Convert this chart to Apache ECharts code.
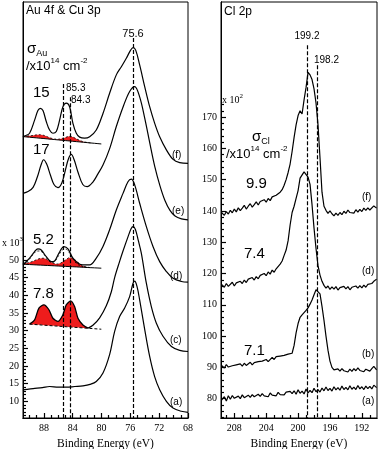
<!DOCTYPE html>
<html>
<head>
<meta charset="utf-8">
<title>Au 4f &amp; Cu 3p / Cl 2p</title>
<script src="https://cdn.jsdelivr.net/npm/echarts/dist/echarts.min.js"></script>
<style>
  html, body { margin: 0; padding: 0; background: #fff; }
  #chart { width: 380px; height: 449px; }
</style>
</head>
<body>
<div id="chart"></div>
<script>
const SERIF = '"Liberation Serif", "DejaVu Serif", serif'
const SANS = '"Liberation Sans", Arial, sans-serif'
const RED = '#ee1c1c'

// ---- Au 4f & Cu 3p panel: binding energy (eV) / counts (x10^3) ----
const auFEnergy = [90.9, 90.68, 89.99, 89.29, 88.83, 88.5, 88.13, 87.67, 87.21, 86.75, 86.28, 85.82, 85.36, 84.89, 84.43, 83.97, 83.5, 83.04, 82.35, 81.65, 80.73, 79.8, 78.88, 77.95, 77.25, 76.56, 75.96, 75.63, 75.26, 74.71, 74.01, 73.32, 72.62, 71.93, 71.0, 70.07, 69.15, 68.0]
const auFCounts = [84.8, 85.0, 85.8, 89.5, 92.2, 92.85, 92.2, 89.1, 86.7, 85.8, 86.3, 89.5, 93.3, 94.3, 93.3, 88.6, 85.8, 84.7, 84.4, 84.8, 86.7, 91.4, 97.1, 102.3, 104.6, 107.0, 109.3, 110.0, 109.3, 105.1, 99.0, 93.3, 88.6, 84.8, 81.1, 78.4, 77.5, 77.3]

const auEEnergy = [90.9, 90.2, 89.5, 88.9, 88.4, 88.04, 87.6, 87.1, 86.6, 86.05, 85.5, 85.0, 84.6, 84.2, 83.8, 83.3, 82.6, 82.0, 81.2, 80.5, 79.8, 78.9, 77.95, 77.0, 76.1, 75.4, 74.7, 74.0, 73.3, 72.6, 71.9, 71.2, 70.5, 69.8, 68.9, 68.0]
const auECounts = [68.8, 69.3, 70.5, 73.5, 76.8, 78.3, 77.0, 74.0, 71.3, 70.4, 71.8, 75.5, 78.5, 79.8, 78.3, 75.0, 71.3, 70.7, 72.0, 74.3, 76.8, 81.3, 87.7, 93.3, 97.6, 99.0, 96.0, 90.0, 83.0, 76.3, 71.0, 66.8, 64.0, 62.4, 61.6, 61.3]

const auDEnergy = [90.91, 90.68, 89.99, 89.29, 88.83, 88.37, 87.67, 86.98, 86.51, 85.91, 85.22, 84.66, 83.97, 83.27, 82.58, 81.65, 80.73, 79.8, 78.88, 77.95, 77.02, 76.33, 75.87, 75.4, 74.71, 73.78, 72.86, 71.93, 71.0, 70.08, 68.92, 68.0]
const auDCounts = [48.8, 49.06, 50.47, 52.35, 53.1, 52.8, 50.9, 49.5, 49.7, 51.9, 53.77, 53.1, 50.47, 49.06, 48.6, 48.6, 50.5, 53.8, 58.5, 64.1, 68.8, 72.1, 72.8, 71.2, 66.0, 59.4, 53.8, 49.5, 46.7, 44.8, 43.9, 43.7]

const auCEnergy = [81.88, 81.2, 80.26, 79.34, 78.64, 78.18, 77.5, 77.02, 76.33, 75.9, 75.63, 75.3, 74.9, 74.48, 73.78, 73.09, 72.39, 71.47, 70.3, 69.15, 68.0]
const auCCounts = [30.7, 31.5, 33.6, 37.0, 41.0, 45.0, 49.5, 52.5, 56.5, 58.8, 59.4, 58.6, 55.5, 51.9, 43.4, 36.8, 32.1, 28.4, 25.5, 24.4, 24.1]

const auAEnergy = [90.9, 90.68, 89.5, 88.2, 87.21, 86.0, 84.9, 83.7, 82.58, 81.6, 80.73, 79.8, 78.88, 78.18, 77.49, 76.79, 76.1, 75.63, 75.4, 75.08, 74.71, 74.0, 73.32, 72.63, 71.93, 71.0, 70.08, 68.92, 68.0]
const auACounts = [13.1, 13.3, 13.6, 13.9, 14.2, 14.0, 14.0, 14.2, 14.4, 14.8, 15.6, 18.0, 23.2, 29.8, 34.0, 36.4, 39.6, 43.4, 44.0, 42.5, 38.7, 30.2, 22.7, 17.0, 13.3, 10.0, 8.1, 7.2, 6.9]

// fit regions: common energy grid, background line and component heights
const fitEnergy = [90.91, 90.5, 90.0, 89.5, 89.0, 88.5, 88.0, 87.5, 87.0, 86.5, 86.0, 85.5, 85.0, 84.5, 84.0, 83.5, 83.0, 82.5, 82.0, 81.5, 81.0, 80.5, 80.03]
const fitFBackground = [84.85, 84.77, 84.68, 84.58, 84.49, 84.39, 84.30, 84.20, 84.10, 84.01, 83.91, 83.82, 83.72, 83.63, 83.53, 83.43, 83.34, 83.24, 83.15, 83.05, 82.96, 82.86, 82.77]
const fitFPeaks = [0, 0.2, 0.4, 0.6, 0.85, 1.0, 0.9, 0.6, 0.3, 0.15, 0.2, 0.5, 0.9, 1.3, 1.2, 0.8, 0.4, 0.15, 0.05, 0]
const fitDBackground = [48.77, 48.73, 48.68, 48.63, 48.57, 48.52, 48.47, 48.42, 48.37, 48.32, 48.26, 48.21, 48.16, 48.11, 48.06, 48.01, 47.96, 47.90, 47.85, 47.80, 47.75, 47.70, 47.65]
const fitDPeaks = [0, 0.3, 0.6, 1.0, 1.5, 1.9, 2.0, 1.6, 1.0, 0.6, 0.6, 1.1, 1.8, 2.5, 2.4, 1.7, 0.9, 0.3, 0.1, 0]
const fitDEnvelope = [0, 0.4, 1.5, 2.9, 3.9, 4.0, 3.1, 1.8, 0.9, 1.2, 2.8, 4.5, 4.9, 4.0, 2.3, 1.0, 0.4, 0.1, 0]

const fitCEnergy = [89.99, 89.29, 88.69, 88.0, 87.3, 86.75, 86.05, 85.36, 84.9, 84.29, 83.74, 83.27, 82.58, 81.88, 81.2, 80.03]
const fitCBackground = [31.83, 31.73, 31.64, 31.54, 31.44, 31.36, 31.26, 31.17, 31.10, 31.01, 30.93, 30.87, 30.77, 30.67, 30.57, 30.40]
const fitCPeaks = [0, 1.32, 4.71, 5.75, 4.46, 2.14, 1.34, 3.33, 6.19, 7.39, 5.87, 2.63, 0.83, 0.03]

const auRefLines = [85.3, 84.3, 75.6]
const auRefTops = [99.7, 96.0, 112.7]

const auEnergyLabels = [68, 72, 76, 80, 84, 88]
const auEnergyMinor = [69, 70, 71, 73, 74, 75, 77, 78, 79, 81, 82, 83, 85, 86, 87, 89, 90]
const auCountLabels = [10, 15, 20, 25, 30, 35, 40, 45, 50]
const auCountMinor = [6, 7, 8, 9, 11, 12, 13, 14, 16, 17, 18, 19, 21, 22, 23, 24, 26, 27, 28, 29, 31, 32, 33, 34, 36, 37, 38, 39, 41, 42, 43, 44, 46, 47, 48, 49, 51]

// ---- Cl 2p panel: binding energy (eV) / counts (x10^2) ----
const clEnergy = [209.6, 209.25, 209, 208.75, 208.5, 208.25, 208, 207.75, 207.5, 207.25, 207, 206.75, 206.5, 206.25, 206, 205.75, 205.5, 205.25, 205, 204.75, 204.5, 204.25, 204, 203.75, 203.5, 203.25, 203, 202.75, 202.5, 202.25, 202, 201.75, 201.5, 201.25, 201, 200.75, 200.5, 200.25, 200, 199.75, 199.5, 199.25, 199, 198.75, 198.5, 198.25, 198, 197.75, 197.5, 197.25, 197, 196.75, 196.5, 196.25, 196, 195.75, 195.5, 195.25, 195, 194.75, 194.5, 194.25, 194, 193.75, 193.5, 193.25, 193, 192.75, 192.5, 192.25, 192, 191.75, 191.5, 191.25, 191, 190.75, 190.5, 190.15]
const clF = [139.5, 138.6, 139.8, 139.0, 140.2, 139.4, 140.6, 139.7, 141.0, 140.1, 140.9, 141.8, 140.6, 141.5, 142.3, 141.2, 142.0, 142.9, 141.9, 143.0, 142.4, 143.6, 142.8, 144.0, 143.3, 144.5, 143.9, 145.0, 144.6, 146.0, 146.8, 148.2, 150.0, 152.3, 155.0, 159.0, 163.5, 167.5, 170.5, 172.0, 171.0, 175.5, 179.5, 184.3, 183.5, 182.0, 179.0, 174.5, 167.5, 157.0, 146.0, 141.5, 140.2, 139.2, 140.0, 139.1, 138.4, 139.3, 138.6, 139.5, 138.8, 139.9, 139.2, 140.3, 139.5, 140.1, 139.3, 140.4, 139.6, 140.5, 139.8, 140.9, 140.2, 141.0, 140.3, 140.8, 141.6, 140.9]
const clD = [116.5, 115.6, 116.8, 115.9, 116.3, 117.2, 116.0, 117.0, 116.4, 117.5, 116.8, 117.9, 117.1, 118.2, 117.6, 118.7, 117.9, 119.0, 118.3, 119.4, 118.8, 120.0, 119.3, 120.5, 119.8, 121.1, 120.4, 121.5, 122.0, 123.0, 124.0, 125.8, 127.5, 130.5, 135.5, 139.5, 141.5, 144.0, 146.5, 150.5, 151.0, 152.5, 152.0, 150.8, 148.5, 142.0, 134.5, 128.0, 122.5, 119.5, 117.5, 116.2, 115.3, 116.0, 114.9, 115.7, 115.0, 115.8, 114.7, 115.5, 114.9, 115.9, 115.1, 115.8, 114.8, 115.6, 115.0, 116.0, 115.3, 116.1, 115.4, 116.3, 115.6, 116.5, 115.9, 116.8, 117.5, 118.2]
const clB = [90.6, 89.8, 90.9, 90.1, 89.6, 90.5, 89.9, 90.8, 90.2, 91.1, 90.4, 91.3, 90.6, 91.0, 91.6, 90.8, 91.5, 90.9, 91.8, 91.2, 92.0, 91.4, 92.5, 91.8, 92.3, 93.2, 92.5, 93.4, 92.8, 93.6, 93.0, 93.8, 93.3, 94.2, 93.6, 94.5, 97.0, 101.0, 104.0, 106.0, 106.8, 107.5, 108.2, 109.0, 110.2, 111.5, 113.2, 114.8, 115.4, 113.5, 109.5, 105.0, 100.0, 95.5, 92.0, 90.0, 89.2, 88.6, 89.5, 88.8, 89.6, 88.9, 89.3, 88.5, 89.4, 88.7, 89.6, 88.9, 89.8, 89.0, 89.5, 88.6, 89.4, 89.9, 88.8, 89.6, 90.3, 89.2]
const clA = [79.5, 80.6, 79.2, 80.9, 79.8, 81.0, 80.1, 79.6, 80.8, 80.0, 81.2, 80.3, 79.9, 81.1, 80.4, 81.3, 80.6, 80.1, 81.4, 80.7, 81.6, 80.9, 81.5, 80.6, 81.8, 81.1, 81.7, 80.9, 82.0, 81.3, 81.9, 81.2, 82.1, 81.5, 82.3, 81.6, 82.5, 81.4, 82.8, 81.7, 82.4, 81.5, 83.1, 81.8, 82.6, 81.9, 83.3, 82.2, 82.9, 82.1, 83.4, 82.5, 83.7, 82.6, 83.3, 82.4, 83.8, 82.8, 83.5, 82.7, 84.0, 82.9, 83.6, 82.8, 84.1, 83.0, 83.7, 82.9, 84.2, 83.1, 83.8, 82.9, 84.0, 83.2, 83.9, 83.1, 84.3, 83.5]

const clRefLines = [198.8, 197.6]
const clRefTops = [193.0, 186.6]

const clEnergyLabels = [192, 196, 200, 204, 208]
const clEnergyMinor = [191, 193, 194, 195, 197, 198, 199, 201, 202, 203, 205, 206, 207, 209]
const clCountLabels = [80, 90, 100, 110, 120, 130, 140, 150, 160, 170]
const clCountMinor = [74, 76, 78, 82, 84, 86, 88, 92, 94, 96, 98, 102, 104, 106, 108, 112, 114, 116, 118, 122, 124, 126, 128, 132, 134, 136, 138, 142, 144, 146, 148, 152, 154, 156, 158, 162, 164, 166, 168, 172, 174]

// axis ranges of the two frames
const AU_X = [68, 90.9]
const AU_Y = [5.3, 122.9]
const CL_X = [190.1, 209.67]
const CL_Y = [73.8, 206.8]

function pairs (xs, ys) {
  return ys.map((y, i) => [xs[i], y])
}

// background + component height
function stackUp (base, peaks) {
  return peaks.map((h, i) => base[i] + h)
}

function energyAxis (grid, range, ticks, labelled) {
  return {
    type: 'value',
    gridIndex: grid,
    position: 'bottom',
    inverse: true,
    min: range[0],
    max: range[1],
    name: labelled ? 'Binding Energy (eV)' : '',
    nameLocation: 'middle',
    nameGap: 17,
    nameTextStyle: { fontFamily: SERIF, fontSize: 11.5, color: '#000' },
    axisLine: { show: true, lineStyle: { color: '#000', width: 1 } },
    axisTick: { show: true, inside: true, length: labelled ? 5 : 3, customValues: ticks, lineStyle: { color: '#000', width: 1.2 } },
    axisLabel: labelled
      ? { show: true, customValues: ticks, margin: 5, fontFamily: SERIF, fontSize: 10, color: '#000' }
      : { show: false },
    splitLine: { show: false }
  }
}

function countAxis (grid, range, ticks, labelled) {
  return {
    type: 'value',
    gridIndex: grid,
    position: 'left',
    min: range[0],
    max: range[1],
    axisLine: { show: true, lineStyle: { color: '#000', width: 1 } },
    axisTick: { show: true, inside: true, length: labelled ? 5 : 3, customValues: ticks, lineStyle: { color: '#000', width: 1.2 } },
    axisLabel: labelled
      ? { show: true, customValues: ticks, margin: 4, fontFamily: SERIF, fontSize: 10, color: '#000' }
      : { show: false },
    splitLine: { show: false }
  }
}

// panel 0 -> axes 0, panel 1 -> axes 2
function curve (panel, xs, ys, smooth, extra) {
  return Object.assign({
    type: 'line',
    xAxisIndex: panel * 2,
    yAxisIndex: panel * 2,
    data: pairs(xs, ys),
    symbol: 'none',
    smooth: smooth,
    silent: true,
    lineStyle: { color: '#000', width: 1.2 },
    z: 4
  }, extra || {})
}

// red area between a background line and background + component
function redFill (xs, base, peaks) {
  return {
    type: 'custom',
    xAxisIndex: 0,
    yAxisIndex: 0,
    silent: true,
    z: 2,
    data: [[xs[0], base[0]]],
    renderItem: function (params, api) {
      const top = peaks.map((h, i) => api.coord([xs[i], base[i] + h]))
      const bottom = peaks.map((h, i) => api.coord([xs[i], base[i]])).reverse()
      return {
        type: 'polygon',
        shape: { points: top.concat(bottom), smooth: 0.25 },
        style: { fill: RED, stroke: null }
      }
    }
  }
}

function refLines (xs, tops, bottom) {
  return {
    silent: true,
    symbol: ['none', 'none'],
    label: { show: false },
    lineStyle: { color: '#000', width: 1.2, type: [4, 2] },
    data: xs.map((x, i) => [{ coord: [x, tops[i]] }, { coord: [x, bottom] }])
  }
}

function text (x, y, str, size, extra) {
  return {
    type: 'text',
    x,
    y,
    silent: true,
    style: Object.assign({
      text: str,
      fontSize: size,
      fontFamily: SANS,
      fill: '#000',
      align: 'left',
      verticalAlign: 'top'
    }, extra || {})
  }
}

const richSigma = {
  b: { fontSize: 15, lineHeight: 18, fontFamily: SANS },
  sub: { fontSize: 9, verticalAlign: 'bottom', fontFamily: SANS }
}
const richUnit = {
  b: { fontSize: 13, lineHeight: 18, fontFamily: SANS },
  sup: { fontSize: 8, verticalAlign: 'top', fontFamily: SANS }
}
const richScale = {
  b: { fontSize: 10, lineHeight: 14, fontFamily: SERIF },
  sup: { fontSize: 7, verticalAlign: 'top', fontFamily: SERIF }
}

const chart = echarts.init(document.getElementById('chart'))

const option = {
  animation: false,
  backgroundColor: '#fff',
  grid: [
    { left: 23, top: 2, width: 165, height: 416, show: true, borderColor: '#000', borderWidth: 1, outerBoundsMode: 'none', containLabel: false },
    { left: 221, top: 2, width: 156, height: 416, show: true, borderColor: '#000', borderWidth: 1, outerBoundsMode: 'none', containLabel: false }
  ],
  xAxis: [
    energyAxis(0, AU_X, auEnergyLabels, true),
    energyAxis(0, AU_X, auEnergyMinor, false),
    energyAxis(1, CL_X, clEnergyLabels, true),
    energyAxis(1, CL_X, clEnergyMinor, false)
  ],
  yAxis: [
    countAxis(0, AU_Y, auCountLabels, true),
    countAxis(0, AU_Y, auCountMinor, false),
    countAxis(1, CL_Y, clCountLabels, true),
    countAxis(1, CL_Y, clCountMinor, false)
  ],
  series: [
    // 7.8 group: red filled peaks over a dashed background
    redFill(fitCEnergy, fitCBackground, fitCPeaks),
    curve(0, fitCEnergy, fitCBackground, false, { lineStyle: { color: '#000', width: 1, type: [3, 2] }, z: 3 }),
    curve(0, fitCEnergy, stackUp(fitCBackground, fitCPeaks), 0.25, { lineStyle: { color: '#000', width: 1.3 } }),
    // 5.2 group components and fit envelope
    redFill(fitEnergy, fitDBackground, fitDPeaks),
    curve(0, fitEnergy, fitDBackground, false, { lineStyle: { color: '#000', width: 1 }, z: 3 }),
    curve(0, fitEnergy, stackUp(fitDBackground, fitDPeaks), 0.25, { lineStyle: { color: '#000', width: 0.8, type: [2, 2] }, z: 3 }),
    curve(0, fitEnergy, stackUp(fitDBackground, fitDEnvelope), 0.3, { lineStyle: { color: '#000', width: 0.8, type: [2, 2] }, z: 3 }),
    // 15 group components
    redFill(fitEnergy, fitFBackground, fitFPeaks),
    curve(0, fitEnergy, fitFBackground, false, { lineStyle: { color: '#000', width: 1 }, z: 3 }),
    curve(0, fitEnergy, stackUp(fitFBackground, fitFPeaks), 0.25, { lineStyle: { color: '#000', width: 0.8, type: [2, 2] }, z: 3 }),
    // raw Au 4f / Cu 3p spectra
    curve(0, auFEnergy, auFCounts, 0.35),
    curve(0, auEEnergy, auECounts, 0.35),
    curve(0, auDEnergy, auDCounts, 0.35),
    curve(0, auCEnergy, auCCounts, 0.35),
    curve(0, auAEnergy, auACounts, 0.35, { markLine: refLines(auRefLines, auRefTops, AU_Y[0]) }),
    // Cl 2p spectra
    curve(1, clEnergy, clF, false),
    curve(1, clEnergy, clD, false),
    curve(1, clEnergy, clB, false),
    curve(1, clEnergy, clA, false, { markLine: refLines(clRefLines, clRefTops, CL_Y[0]) })
  ],
  graphic: [
    text(26, 5, 'Au 4f & Cu 3p', 12),
    text(27, 40, '{b|σ}{sub|Au}', 15, { rich: richSigma }),
    text(26, 57, '{b|/x10}{sup|14}{b| cm}{sup|-2}', 13, { rich: richUnit }),
    text(33, 85, '15', 15),
    text(33, 142, '17', 15),
    text(33, 232, '5.2', 15),
    text(33, 286, '7.8', 15),
    text(133, 28, '75.6', 11, { align: 'center' }),
    text(66, 83, '85.3', 10),
    text(71, 95, '84.3', 10),
    text(172, 150, '(f)', 10),
    text(172, 206, '(e)', 10),
    text(170, 271, '(d)', 10),
    text(170, 335, '(c)', 10),
    text(170, 397, '(a)', 10),
    text(2, 236, '{b|x 10}{sup|3}', 10, { rich: richScale }),

    text(224, 6, 'Cl 2p', 12),
    text(307, 31, '199.2', 10, { align: 'center' }),
    text(314, 55, '198.2', 10),
    text(252, 128, '{b|σ}{sub|Cl}', 15, { rich: richSigma }),
    text(226, 145, '{b|/x10}{sup|14}{b| cm}{sup|-2}', 13, { rich: richUnit }),
    text(246, 176, '9.9', 15),
    text(244, 246, '7.4', 15),
    text(244, 343, '7.1', 15),
    text(362, 192, '(f)', 10),
    text(362, 266, '(d)', 10),
    text(362, 349, '(b)', 10),
    text(362, 396, '(a)', 10),
    text(222, 93, '{b|x 10}{sup|2}', 10, { rich: richScale })
  ]
}

chart.setOption(option)
</script>
</body>
</html>
